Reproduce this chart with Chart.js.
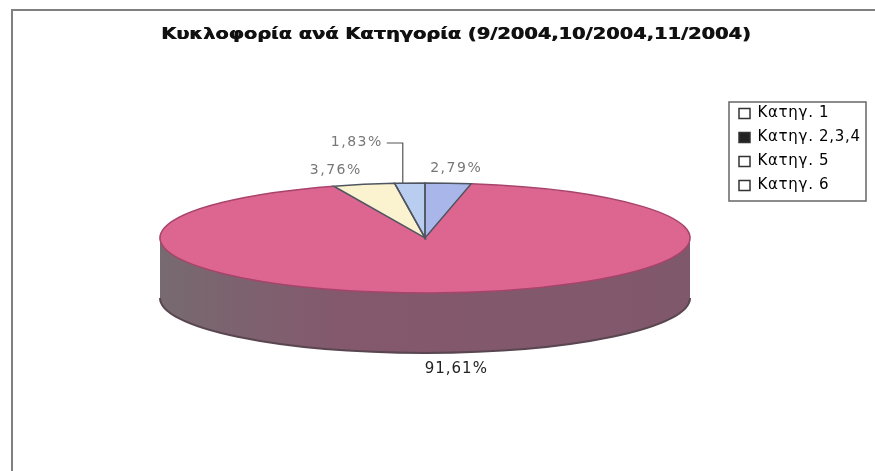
<!DOCTYPE html>
<html>
<head>
<meta charset="utf-8">
<script src="https://cdn.jsdelivr.net/npm/chart.js@4"></script>
<style>
  html, body { margin: 0; padding: 0; background: #ffffff; }
  #traffic_chart { display: block; }
</style>
</head>
<body>
<canvas id="traffic_chart" width="875" height="471"></canvas>
<script>
const titleText = "Κυκλοφορία ανά Κατηγορία (9/2004,10/2004,11/2004)";
const categories = ["Κατηγ. 1", "Κατηγ. 2,3,4", "Κατηγ. 5", "Κατηγ. 6"];
const shares = [2.79, 91.61, 3.76, 1.83];
const shareLabels = ["2,79%", "91,61%", "3,76%", "1,83%"];

const sliceColors = ["#a9b6ea", "#dc6690", "#fbf3cf", "#b9cdf0"];
const wallColors = ["#6f7390", "#84586d", "#a09a80", "#76839a"];
const markerColors = ["#ffffff", "#222222", "#ffffff", "#ffffff"];
const labelColors = ["#777777", "#222222", "#777777", "#777777"];
// label offset from the slice's rim point
const labelOffsets = [[8, -15], [8, 76], [-28, -14], [-53, -41]];

const flatten = 55 / 265;
const depth = 60;
const fontFamily = "'DejaVu Sans', sans-serif";

function applyFlatten(ctx, arc, dy) {
    ctx.translate(arc.x, arc.y + dy);
    ctx.scale(1, flatten);
    ctx.translate(-arc.x, -arc.y);
}

function strokeRim(ctx, arc, color, width, dy, from, to) {
    ctx.save();
    applyFlatten(ctx, arc, dy);
    ctx.beginPath();
    ctx.arc(arc.x, arc.y, arc.outerRadius, from, to);
    ctx.restore();
    ctx.strokeStyle = color;
    ctx.lineWidth = width;
    ctx.stroke();
}

function strokeSlice(ctx, arc, color, width) {
    ctx.save();
    applyFlatten(ctx, arc, 0);
    ctx.beginPath();
    ctx.moveTo(arc.x, arc.y);
    ctx.arc(arc.x, arc.y, arc.outerRadius, arc.startAngle, arc.endAngle);
    ctx.closePath();
    ctx.restore();
    ctx.strokeStyle = color;
    ctx.lineWidth = width;
    ctx.stroke();
}

// legend text runs wider than the plain font
function spaceOut(box, ctx, spacing) {
    if (box.spaced) {
        return;
    }
    const draw = box.draw;
    box.draw = function (area) {
        ctx.save();
        ctx.letterSpacing = spacing;
        draw.call(box, area);
        ctx.restore();
    };
    box.spaced = true;
}

// heavy extended title: stretched sideways and struck twice
function widenTitle(box, ctx, stretch) {
    if (box.spaced) {
        return;
    }
    const draw = box.draw;
    box.draw = function (area) {
        [0, 0.7].forEach(function (shift) {
            ctx.save();
            ctx.translate(box.left + shift, 0);
            ctx.scale(stretch, 1);
            ctx.translate(-box.left, 0);
            draw.call(box, area);
            ctx.restore();
        });
    };
    box.spaced = true;
}

// Squashes the pie to an ellipse and stacks darker copies of the arcs under it
const extrudedPie = {
    id: "extrudedPie",
    afterLayout(chart) {
        const title = chart.titleBlock;
        title.left = 161;
        title.right = 760;
        widenTitle(title, chart.ctx, 1.175);
        const legend = chart.legend;
        legend.left = 730;
        legend.right = 866;
        legend.top = 97;
        legend.bottom = 206;
        spaceOut(legend, chart.ctx, "0.7px");
    },
    beforeDatasetsDraw(chart) {
        const ctx = chart.ctx;
        const arcs = chart.getDatasetMeta(0).data;
        const shade = ctx.createLinearGradient(160, 0, 690, 0);
        shade.addColorStop(0, "#776a70");
        shade.addColorStop(0.35, wallColors[1]);
        shade.addColorStop(1, "#80586c");
        for (let d = depth; d >= 1; d--) {
            arcs.forEach(function (arc, i) {
                const original = arc.options;
                arc.options = Object.assign(Object.create(original), {
                    backgroundColor: i === 1 ? shade : wallColors[i],
                    borderWidth: 0
                });
                ctx.save();
                applyFlatten(ctx, arc, d);
                arc.draw(ctx);
                ctx.restore();
                arc.options = original;
            });
        }
        ctx.save();
        applyFlatten(ctx, arcs[0], 0);
    },
    afterDatasetsDraw(chart) {
        const ctx = chart.ctx;
        ctx.restore();
        const arcs = chart.getDatasetMeta(0).data;

        // front rims, top face and foot of the wall
        strokeRim(ctx, arcs[1], "#5a4650", 2, depth, 0, Math.PI);
        strokeRim(ctx, arcs[1], "#a8446c", 1.5, 0, arcs[1].startAngle, arcs[1].endAngle);

        [0, 2, 3].forEach(function (i) {
            strokeSlice(ctx, arcs[i], "#4f5560", 1.5);
        });

        // value labels
        ctx.save();
        ctx.textAlign = "center";
        ctx.textBaseline = "middle";
        arcs.forEach(function (item, i) {
            const mid = (item.startAngle + item.endAngle) / 2;
            const rimX = item.x + Math.cos(mid) * item.outerRadius;
            const rimY = item.y + Math.sin(mid) * item.outerRadius * flatten;
            ctx.fillStyle = labelColors[i];
            ctx.font = (i === 1 ? "15px " : "14px ") + fontFamily;
            ctx.letterSpacing = i === 1 ? "1px" : "1.5px";
            ctx.fillText(shareLabels[i], rimX + labelOffsets[i][0], rimY + labelOffsets[i][1]);
        });
        ctx.restore();

        // leader of the smallest slice
        const small = arcs[3];
        const smallMid = (small.startAngle + small.endAngle) / 2;
        const tipX = small.x + Math.cos(smallMid) * small.outerRadius;
        const tipY = small.y + Math.sin(smallMid) * small.outerRadius * flatten;
        ctx.beginPath();
        ctx.moveTo(tipX - 23, tipY - 40);
        ctx.lineTo(tipX - 7, tipY - 40);
        ctx.lineTo(tipX - 7, tipY);
        ctx.strokeStyle = "#555555";
        ctx.lineWidth = 1.2;
        ctx.stroke();
    },
    afterDraw(chart) {
        const ctx = chart.ctx;
        // legend box
        ctx.strokeStyle = "#666666";
        ctx.lineWidth = 1.5;
        ctx.strokeRect(729, 102, 137, 99);
        // outer frame
        ctx.strokeStyle = "#808080";
        ctx.lineWidth = 2;
        ctx.beginPath();
        ctx.moveTo(12, 471);
        ctx.lineTo(12, 10);
        ctx.lineTo(875, 10);
        ctx.stroke();
    }
};

new Chart(document.getElementById("traffic_chart"), {
    type: "pie",
    plugins: [extrudedPie],
    data: {
        labels: categories,
        datasets: [{
            data: shares,
            backgroundColor: sliceColors,
            borderWidth: 0,
            radius: 265,
            clip: false
        }]
    },
    options: {
        responsive: false,
        animation: false,
        layout: { padding: { left: 36, right: 61, top: 25, bottom: 40 } },
        plugins: {
            tooltip: { enabled: false },
            title: {
                display: true,
                text: titleText,
                align: "start",
                color: "#111111",
                font: { family: fontFamily, size: 16.5, weight: "bold" },
                padding: 0
            },
            legend: {
                position: "chartArea",
                align: "start",
                labels: {
                    boxWidth: 11,
                    boxHeight: 10,
                    padding: 9,
                    color: "#222222",
                    font: { family: fontFamily, size: 15 },
                    generateLabels(chart) {
                        return categories.map(function (name, i) {
                            return {
                                text: name,
                                fillStyle: markerColors[i],
                                strokeStyle: "#333333",
                                lineWidth: 1.5,
                                index: i
                            };
                        });
                    }
                }
            }
        }
    }
});
</script>
</body>
</html>
